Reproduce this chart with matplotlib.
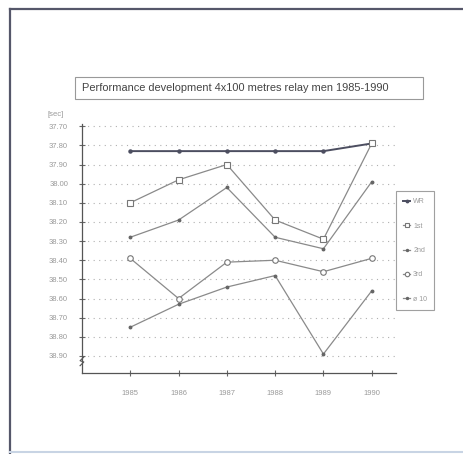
import matplotlib.pyplot as plt
from matplotlib.lines import Line2D
from matplotlib.patches import Rectangle

plt.rcParams['font.family'] = ['Liberation Sans', 'DejaVu Sans']

# Relay times in seconds, 1985-1990
years = [1985, 1986, 1987, 1988, 1989, 1990]
wr = [37.83, 37.83, 37.83, 37.83, 37.83, 37.79]
first = [38.10, 37.98, 37.90, 38.19, 38.29, 37.79]
second = [38.28, 38.19, 38.02, 38.28, 38.34, 37.99]
third = [38.39, 38.60, 38.41, 38.40, 38.46, 38.39]
avg10 = [38.75, 38.63, 38.54, 38.48, 38.89, 38.56]
yticks = [37.70, 37.80, 37.90, 38.00, 38.10, 38.20, 38.30,
          38.40, 38.50, 38.60, 38.70, 38.80, 38.90]

W, H = 463, 454
fig = plt.figure(figsize=(W / 100, H / 100), dpi=100)
ax = fig.add_axes([0.177, 0.178, 0.678, 0.549])

dark = '#4c4e60'
grey = '#8a8a8a'

ax.plot(years, wr, color=dark, lw=1.4, marker='o', ms=2.2, label='WR')
ax.plot(years, first, color=grey, lw=0.9, marker='s', ms=4, mfc='white', mec='#777777', mew=0.8, label='1st')
ax.plot(years, second, color=grey, lw=0.9, marker='o', ms=1.8, mfc='#666666', mec='#666666', label='2nd')
ax.plot(years, third, color=grey, lw=0.9, marker='o', ms=4, mfc='white', mec='#777777', mew=0.8, label='3rd')
ax.plot(years, avg10, color=grey, lw=0.9, marker='o', ms=1.8, mfc='#666666', mec='#666666', label='ø 10')

ax.set_xlim(1984.0, 1990.5)
ax.set_ylim(38.99, 37.688)
ax.set_xticks(years)
ax.set_yticks(yticks)
ax.set_yticklabels([f'{v:.2f}' for v in yticks])
ax.tick_params(axis='both', labelsize=5.5, labelcolor='#9a9a9a', color='#666666',
               direction='inout', length=4, width=0.8)
ax.tick_params(axis='x', pad=10)
ax.tick_params(axis='y', pad=8)

ax.grid(axis='y', linestyle=(0, (1, 4)), color='#b0b0b0', lw=0.8)
ax.set_axisbelow(True)
for side in ['top', 'right']:
    ax.spines[side].set_visible(False)
for side in ['left', 'bottom']:
    ax.spines[side].set_color('#555555')
    ax.spines[side].set_linewidth(0.9)

# axis break squiggle near the bottom of the y axis
ax.plot([-0.006, 0.006, -0.006, 0.006], [0.03, 0.045, 0.05, 0.065],
        transform=ax.transAxes, color='#555555', lw=0.8, clip_on=False)

ax.text(-0.11, 1.03, '[sec]', transform=ax.transAxes, fontsize=5.5, color='#9a9a9a')

# title in its own framed box
fig.add_artist(Rectangle((75 / W, 1 - 99 / H), 348 / W, 22 / H, transform=fig.transFigure,
                         fc='white', ec='#999999', lw=0.8))
fig.text(82 / W, 1 - 88 / H, 'Performance development 4x100 metres relay men 1985-1990',
         fontsize=7.9, color='#444444', va='center', ha='left')

leg = fig.legend(loc='upper left', bbox_to_anchor=(393 / W, 1 - 188 / H),
                 fontsize=5, frameon=True, fancybox=False, handlelength=1.0,
                 labelspacing=2.5, borderpad=1.0, handletextpad=0.4, markerscale=0.8)
leg.get_frame().set_edgecolor('#888888')
leg.get_frame().set_linewidth(0.8)
for t in leg.get_texts():
    t.set_color('#9a9a9a')

# page frame
fig.add_artist(Line2D([10 / W, 10 / W], [1 - 9 / H, 0], color='#55576a', lw=1.6))
fig.add_artist(Line2D([10 / W, 1], [1 - 9 / H, 1 - 9 / H], color='#55576a', lw=1.6))
fig.add_artist(Line2D([10 / W, 1], [2 / H, 2 / H], color='#c8d4e4', lw=1.5))

fig.savefig('out.png', dpi=100)
